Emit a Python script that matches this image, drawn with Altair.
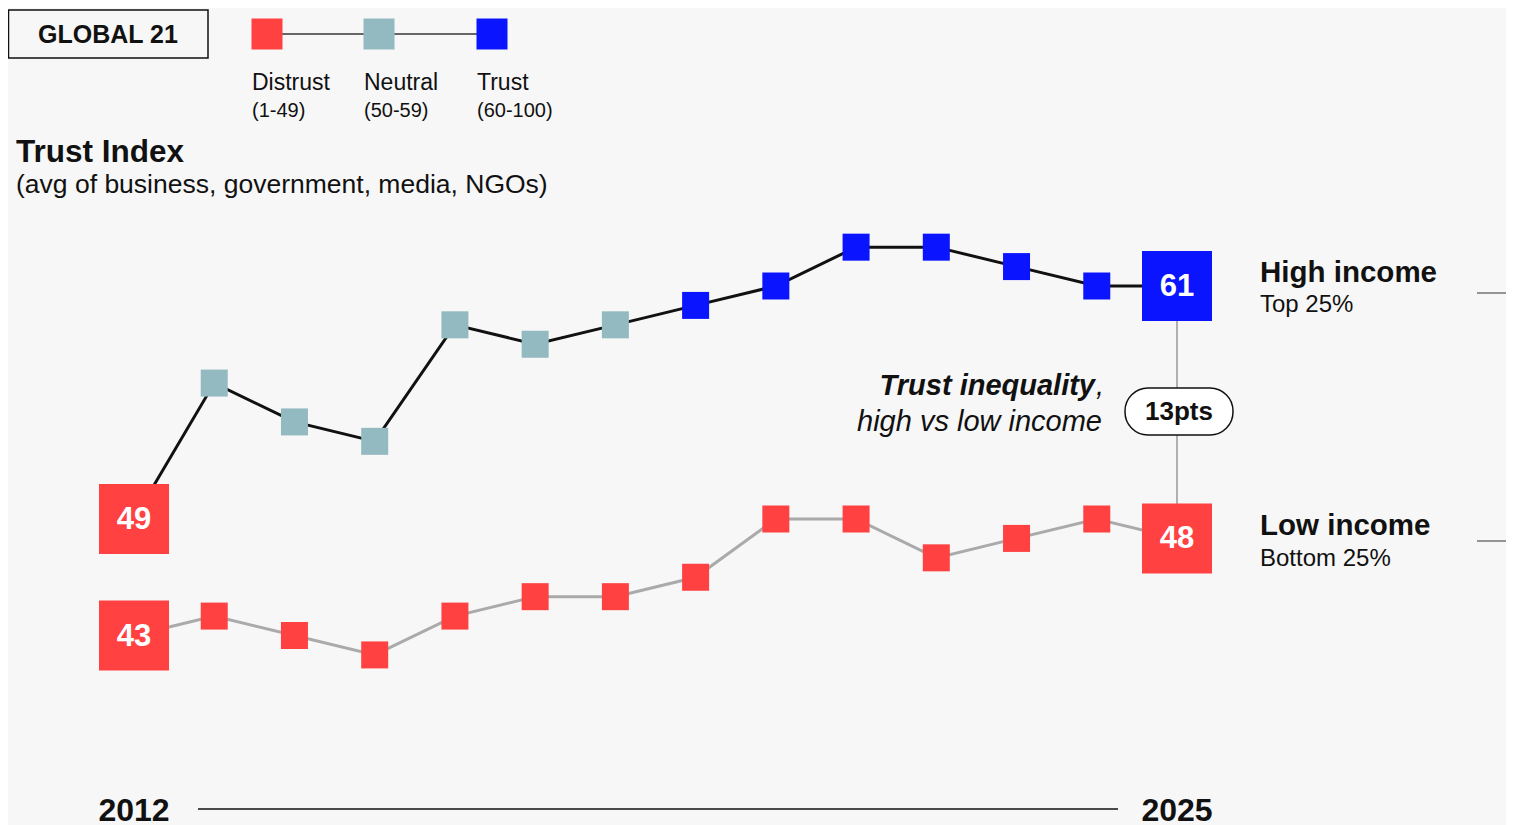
import altair as alt
import pandas as pd

FONT = "Liberation Sans"

years = list(range(2012, 2026))
high_income = [49, 56, 54, 53, 59, 58, 59, 60, 61, 63, 63, 62, 61, 61]
low_income = [43, 44, 43, 42, 44, 45, 45, 46, 49, 49, 47, 48, 49, 48]
categories = ["Distrust", "Neutral", "Trust"]
category_ranges = ["(1-49)", "(50-59)", "(60-100)"]
colors = ["#FF4141", "#93B9C1", "#0A14FF"]
gap_label = "13pts"


def category(v):
    if v < 50:
        return "Distrust"
    if v < 60:
        return "Neutral"
    return "Trust"


rows = []
for series, vals in (("High", high_income), ("Low", low_income)):
    for yr, v in zip(years, vals):
        rows.append({"series": series, "year": yr, "value": v,
                     "category": category(v),
                     "end": yr in (years[0], years[-1])})
df = pd.DataFrame(rows)

xs = alt.Scale(domain=[2012, 2025], range=[126, 1169])
ys = alt.Scale(domain=[40, 70], range=[685.75, 103.25])
cs = alt.Scale(domain=categories, range=colors)

X = alt.X("year:Q", scale=xs, axis=None)
Y = alt.Y("value:Q", scale=ys, axis=None)


def label(text, x, y, size, weight="normal", style="normal", align="left", color="#111"):
    return alt.Chart(pd.DataFrame({"t": [text]})).mark_text(
        align=align, baseline="middle", fontSize=size, fontWeight=weight,
        fontStyle=style, color=color, font=FONT
    ).encode(x=alt.value(x), y=alt.value(y), text="t:N")


dummy = pd.DataFrame({"d": [0]})
layers = []

# Header box
layers.append(alt.Chart(dummy).mark_rect(fill="#f7f7f7", stroke="#111", strokeWidth=1.5).encode(
    x=alt.value(0.5), x2=alt.value(200), y=alt.value(2), y2=alt.value(50)))
layers.append(label("GLOBAL 21", 100, 27, 25, weight="bold", align="center"))

# Legend
leg_x = [259, 371, 484]
layers.append(alt.Chart(dummy).mark_rule(color="#666", strokeWidth=2).encode(
    x=alt.value(leg_x[0]), x2=alt.value(leg_x[-1]), y=alt.value(26)))
for i, c in enumerate(categories):
    layers.append(alt.Chart(dummy).mark_square(size=961, opacity=1, color=colors[i]).encode(
        x=alt.value(leg_x[i]), y=alt.value(26)))
    layers.append(label(c, leg_x[i] - 15, 75, 23))
    layers.append(label(category_ranges[i], leg_x[i] - 15, 103, 20))

# Titles
layers.append(label("Trust Index", 8, 145, 31.5, weight="bold"))
layers.append(label("(avg of business, government, media, NGOs)", 8, 177, 26.5))

# Connector between end values
gap = pd.DataFrame({"year": [years[-1]], "hi": [high_income[-1]], "lo": [low_income[-1]]})
layers.append(alt.Chart(gap).mark_rule(color="#999", strokeWidth=1.5).encode(
    x=X, y=alt.Y("hi:Q", scale=ys, axis=None), y2="lo:Q"))

# Lines
layers.append(alt.Chart(df[df.series == "Low"]).mark_line(color="#aaaaaa", strokeWidth=3).encode(x=X, y=Y))
layers.append(alt.Chart(df[df.series == "High"]).mark_line(color="#111111", strokeWidth=3).encode(x=X, y=Y))

# Squares
layers.append(alt.Chart(df[~df.end]).mark_square(size=729, opacity=1).encode(
    x=X, y=Y, color=alt.Color("category:N", scale=cs, legend=None)))
layers.append(alt.Chart(df[df.end]).mark_square(size=4900, opacity=1).encode(
    x=X, y=Y, color=alt.Color("category:N", scale=cs, legend=None)))
layers.append(alt.Chart(df[df.end]).mark_text(
    color="white", fontSize=31, fontWeight="bold", font=FONT, baseline="middle", dy=1
).encode(x=X, y=Y, text="value:Q"))

# Inequality annotation
layers.append(label("Trust inequality", 1087, 378, 29, weight="bold", style="italic", align="right"))
layers.append(label(",", 1088, 378, 29, style="italic", align="left"))
layers.append(label("high vs low income", 1094, 414, 29, style="italic", align="right"))
layers.append(alt.Chart(dummy).mark_rect(fill="white", stroke="#111", strokeWidth=1.5, cornerRadius=23).encode(
    x=alt.value(1117), x2=alt.value(1225), y=alt.value(380), y2=alt.value(427)))
layers.append(label(gap_label, 1171, 404, 26, weight="bold", align="center"))

# Right labels
layers.append(label("High income", 1252, 265, 29.5, weight="bold"))
layers.append(label("Top 25%", 1252, 297, 24))
layers.append(label("Low income", 1252, 518, 29.5, weight="bold"))
layers.append(label("Bottom 25%", 1252, 551, 24))
for yy in (285, 533):
    layers.append(alt.Chart(dummy).mark_rule(color="#333", strokeWidth=1.2).encode(
        x=alt.value(1469), x2=alt.value(1506), y=alt.value(yy)))

# Bottom axis
layers.append(alt.Chart(dummy).mark_rule(color="#111", strokeWidth=1.5).encode(
    x=alt.value(190), x2=alt.value(1110), y=alt.value(801)))
ends = pd.DataFrame({"year": [years[0], years[-1]], "lab": [str(years[0]), str(years[-1])]})
layers.append(alt.Chart(ends).mark_text(
    fontSize=32, fontWeight="bold", font=FONT, color="#111", baseline="middle"
).encode(x=X, y=alt.value(803), text="lab:N"))

chart = alt.layer(*layers).properties(
    width=1498, height=817, padding=0,
    autosize=alt.AutoSizeParams(type="none"),
    background="#f7f7f7",
).configure_view(stroke=None)

chart.save("out.html", embed_options={"renderer": "svg", "actions": False})
